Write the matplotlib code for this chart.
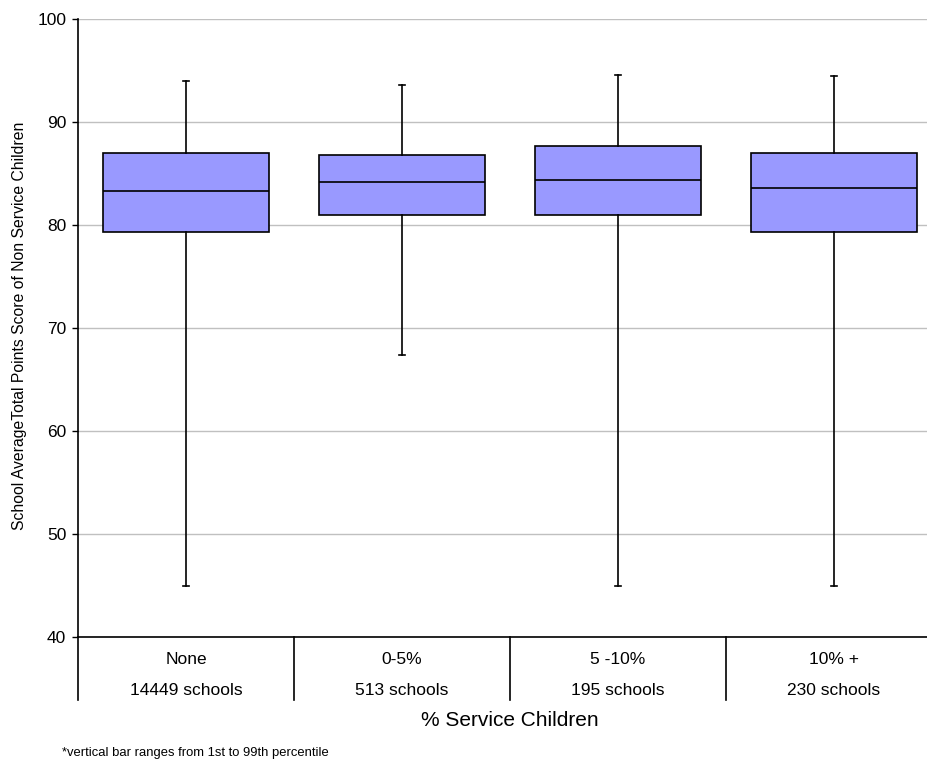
import matplotlib
matplotlib.use("Agg")
import matplotlib.pyplot as plt
import matplotlib.transforms as mtransforms

plt.rcParams['font.family'] = ['Liberation Sans', 'DejaVu Sans']

# categories and school counts
categories = ['None', '0-5%', '5 -10%', '10% +']
school_counts = ['14449 schools', '513 schools', '195 schools', '230 schools']

# box stats (whiskers = 1st / 99th percentile)
p1 = [45.0, 67.4, 45.0, 45.0]
q1 = [79.3, 81.0, 81.0, 79.3]
median = [83.3, 84.2, 84.4, 83.6]
q3 = [87.0, 86.8, 87.7, 87.0]
p99 = [94.0, 93.6, 94.6, 94.5]

stats = []
for i in range(len(categories)):
    stats.append({'whislo': p1[i], 'q1': q1[i], 'med': median[i],
                  'q3': q3[i], 'whishi': p99[i], 'fliers': []})

fig = plt.figure(figsize=(9.28, 7.6), dpi=100)
ax = fig.add_axes([78/928, 123/760, 864/928, 618/760])

pos = list(range(1, len(categories) + 1))
ax.bxp(stats, positions=pos, widths=0.77, patch_artist=True, showfliers=False,
       boxprops=dict(facecolor='#9999ff', edgecolor='black', linewidth=1.2),
       medianprops=dict(color='black', linewidth=1.2),
       whiskerprops=dict(color='black', linewidth=1.2),
       capprops=dict(color='black', linewidth=1.2), capwidths=0.03)

ax.set_xlim(0.5, len(categories) + 0.5)
ax.set_ylim(40, 100)
ax.set_yticks([40, 50, 60, 70, 80, 90, 100])
ax.tick_params(axis='y', labelsize=12.5, length=4.5, width=1, pad=4)
ax.set_xticks([])
ax.yaxis.grid(True, color='#c0c0c0', linewidth=1)
ax.set_axisbelow(True)
for s in ['top', 'right']:
    ax.spines[s].set_visible(False)
ax.spines['left'].set_linewidth(1.2)
ax.spines['bottom'].set_linewidth(1.2)

# category table under the axis
trans = mtransforms.blended_transform_factory(ax.transData, ax.transAxes)
for x in [p - 0.5 for p in pos]:
    ax.plot([x, x], [0, -0.102], transform=trans, color='black', lw=1.2, clip_on=False)
for p, cat, n in zip(pos, categories, school_counts):
    ax.text(p, -0.037, cat, transform=trans, ha='center', va='center', fontsize=12.5)
    ax.text(p, -0.087, n, transform=trans, ha='center', va='center', fontsize=12.5)

fig.text(510/928, 1 - 720/760, '% Service Children', ha='center', va='center', fontsize=15)
fig.text(20/928, 1 - 326/760, 'School AverageTotal Points Score of Non Service Children',
         rotation=90, ha='center', va='center', fontsize=11.3)
fig.text(62/928, 1 - 753/760, '*vertical bar ranges from 1st to 99th percentile',
         ha='left', va='center', fontsize=9.4)

fig.savefig('out.png', dpi=100)
